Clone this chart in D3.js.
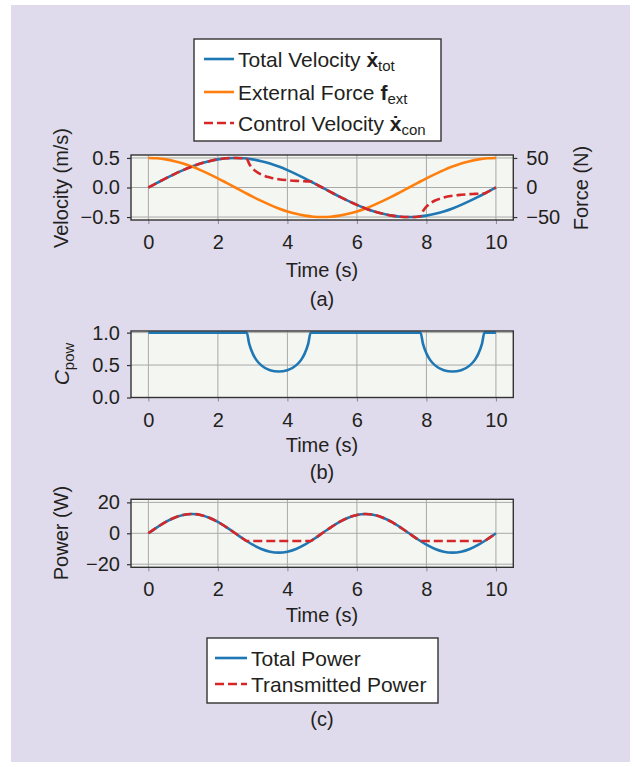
<!DOCTYPE html>
<html><head><meta charset="utf-8">
<script src="https://cdn.jsdelivr.net/npm/d3@7"></script>
<style>
body{margin:0;background:#fff}
text{font-family:"Liberation Sans",Arial,Helvetica,sans-serif;fill:#231f20}
</style>
</head><body><svg id="c" width="635" height="767"></svg>
<script>
// ---------- data ----------
const timeGrid = [0,0.25,0.5,0.75,1,1.25,1.5,1.75,2,2.25,2.5,2.75,3,3.25,3.5,3.75,4,4.25,4.5,4.75,5,5.25,5.5,5.75,6,6.25,6.5,6.75,7,7.25,7.5,7.75,8,8.25,8.5,8.75,9,9.25,9.5,9.75,10];
const velTotal = [0,0.078,0.155,0.227,0.294,0.354,0.405,0.446,0.476,0.494,0.5,0.494,0.476,0.446,0.405,0.354,0.294,0.227,0.155,0.078,0,-0.078,-0.155,-0.227,-0.294,-0.354,-0.405,-0.446,-0.476,-0.494,-0.5,-0.494,-0.476,-0.446,-0.405,-0.354,-0.294,-0.227,-0.155,-0.078,0];
const forceExt = [50,49.4,47.6,44.6,40.5,35.4,29.4,22.7,15.5,7.8,0,-7.8,-15.5,-22.7,-29.4,-35.4,-40.5,-44.6,-47.6,-49.4,-50,-49.4,-47.6,-44.6,-40.5,-35.4,-29.4,-22.7,-15.5,-7.8,0,7.8,15.5,22.7,29.4,35.4,40.5,44.6,47.6,49.4,50];
const powTotal = [0,3.86,7.35,10.11,11.89,12.5,11.89,10.11,7.35,3.86,0,-3.86,-7.35,-10.11,-11.89,-12.5,-11.89,-10.11,-7.35,-3.86,0,3.86,7.35,10.11,11.89,12.5,11.89,10.11,7.35,3.86,0,-3.86,-7.35,-10.11,-11.89,-12.5,-11.89,-10.11,-7.35,-3.86,0];

const timeFine = [0,0.25,0.5,0.75,1,1.25,1.5,1.75,2,2.25,2.5,2.75,2.83,2.9,3,3.1,3.25,3.5,3.75,4,4.25,4.4,4.5,4.6,4.67,4.75,5,5.25,5.5,5.75,6,6.25,6.5,6.75,7,7.25,7.5,7.75,7.83,7.9,8,8.1,8.25,8.5,8.75,9,9.25,9.4,9.5,9.6,9.67,9.75,10];
const velControl = [0,0.078,0.155,0.227,0.294,0.354,0.405,0.446,0.476,0.494,0.5,0.494,0.488,0.402,0.324,0.272,0.220,0.170,0.141,0.124,0.112,0.108,0.105,0.103,0.102,0.078,0,-0.078,-0.155,-0.227,-0.294,-0.354,-0.405,-0.446,-0.476,-0.494,-0.5,-0.494,-0.488,-0.402,-0.324,-0.272,-0.220,-0.170,-0.141,-0.124,-0.112,-0.108,-0.105,-0.103,-0.102,-0.078,0];
const powTransmitted = [0,3.86,7.35,10.11,11.89,12.5,11.89,10.11,7.35,3.86,0,-3.86,-5,-5,-5,-5,-5,-5,-5,-5,-5,-5,-5,-5,-5,-3.86,0,3.86,7.35,10.11,11.89,12.5,11.89,10.11,7.35,3.86,0,-3.86,-5,-5,-5,-5,-5,-5,-5,-5,-5,-5,-5,-5,-5,-3.86,0];
const cPow = [1,1,1,1,1,1,1,1,1,1,1,1,1,0.83,0.68,0.584,0.495,0.421,0.40,0.421,0.495,0.584,0.68,0.83,1,1,1,1,1,1,1,1,1,1,1,1,1,1,1,0.83,0.68,0.584,0.495,0.421,0.40,0.421,0.495,0.584,0.68,0.83,1,1,1];

const xTicks = [0,2,4,6,8,10];
const velTicks = [-0.5,0,0.5];
const velTickLabels = ["\u22120.5","0.0","0.5"];
const forceTicks = [-50,0,50];
const forceTickLabels = ["\u221250","0","50"];
const cTicks = [0,0.5,1.0];
const cTickLabels = ["0.0","0.5","1.0"];
const powTicks = [-20,0,20];
const powTickLabels = ["\u221220","0","20"];

// ---------- drawing ----------
const BLUE="#1f77b4", ORANGE="#ff7f0e", RED="#d62728", TXT="#231f20";
const TICKFS = 20, LABELFS = 20, LEGFS = 21, SUBFS = 15;
const svg = d3.select("#c");
svg.append("rect").attr("x",11).attr("y",5).attr("width",619).attr("height",757).attr("fill","#dfdbec");

const L=131, R=513.3;
const x = d3.scaleLinear().domain([-0.5,10.5]).range([L,R]);

function makePanel(top,bottom,yDomain,ticks,labels){
  const y = d3.scaleLinear().domain(yDomain).range([bottom,top]);
  const g = svg.append("g");
  g.append("rect").attr("x",L).attr("y",top).attr("width",R-L).attr("height",bottom-top).attr("fill","#f4f6f1");
  g.selectAll(null).data(xTicks).join("line")
    .attr("x1",d=>x(d)).attr("x2",d=>x(d)).attr("y1",top).attr("y2",bottom)
    .attr("stroke","#a9a9a9").attr("stroke-width",1);
  g.selectAll(null).data(ticks).join("line")
    .attr("x1",L).attr("x2",R).attr("y1",d=>y(d)).attr("y2",d=>y(d))
    .attr("stroke","#a9a9a9").attr("stroke-width",1);
  const ax = g.append("g").attr("transform",`translate(0,${bottom})`)
    .call(d3.axisBottom(x).tickValues(xTicks).tickFormat(d=>String(d)).tickSize(4).tickPadding(11));
  ax.select(".domain").remove();
  ax.attr("font-family",null);
  ax.selectAll("line").attr("stroke","#8a8a8a").attr("stroke-width",1);
  ax.selectAll("text").attr("font-size",TICKFS).style("fill",TXT);
  const ay = g.append("g").attr("transform",`translate(${L},0)`)
    .call(d3.axisLeft(y).tickValues(ticks).tickFormat((d,i)=>labels[i]).tickSize(4).tickPadding(7));
  ay.select(".domain").remove();
  ay.attr("font-family",null);
  ay.selectAll("line").attr("stroke","#333").attr("stroke-width",1.2);
  ay.selectAll("text").attr("font-size",TICKFS).style("fill",TXT);
  const lines = g.append("g");
  const spine = () => g.append("rect").attr("x",L).attr("y",top).attr("width",R-L).attr("height",bottom-top)
    .attr("fill","none").attr("stroke","#333").attr("stroke-width",1.4);
  return {g,y,lines,spine,top,bottom};
}

function drawLine(p, yScale, xs, ys, color, dashed){
  const pts = xs.map((t,i)=>[t,ys[i]]);
  const ln = d3.line().x(d=>x(d[0])).y(d=>yScale(d[1])).curve(d3.curveMonotoneX);
  p.lines.append("path").attr("d",ln(pts)).attr("fill","none").attr("stroke",color)
    .attr("stroke-width",2.6).attr("stroke-dasharray",dashed?"9,4":null);
}

function addText(txt,xp,yp,opts={}){
  const t = svg.append("text").attr("x",xp).attr("y",yp).attr("font-size",opts.size||LABELFS)
    .attr("text-anchor",opts.anchor||"middle").text(txt);
  if(opts.rotate) t.attr("transform",`rotate(${opts.rotate},${xp},${yp})`);
  return t;
}

// Panel (a)
const pa = makePanel(155,220,[-0.55,0.55],velTicks,velTickLabels);
const yForce = d3.scaleLinear().domain([-55,55]).range([220,155]);
const ayR = pa.g.append("g").attr("transform",`translate(${R},0)`)
  .call(d3.axisRight(yForce).tickValues(forceTicks).tickFormat((d,i)=>forceTickLabels[i]).tickSize(4).tickPadding(9));
ayR.select(".domain").remove();
ayR.attr("font-family",null);
ayR.selectAll("line").attr("stroke","#333").attr("stroke-width",1.2);
ayR.selectAll("text").attr("font-size",TICKFS).style("fill",TXT);
drawLine(pa, pa.y, timeGrid, velTotal, BLUE, false);
drawLine(pa, yForce, timeGrid, forceExt, ORANGE, false);
drawLine(pa, pa.y, timeFine, velControl, RED, true);
pa.spine();
addText("Time (s)", 322, 277);
addText("(a)", 322, 306);
addText("Velocity (m/s)", 68, 188, {rotate:-90});
addText("Force (N)", 588, 188, {rotate:-90});

// Panel (b)
const pb = makePanel(331,397.5,[0,1.025],cTicks,cTickLabels);
drawLine(pb, pb.y, timeFine, cPow, BLUE, false);
pb.spine();
addText("Time (s)", 322, 452);
addText("(b)", 322, 479);
const cl = svg.append("text").attr("transform","translate(69,364) rotate(-90)").attr("text-anchor","middle").attr("font-size",LABELFS+1);
cl.append("tspan").attr("font-style","italic").text("C");
cl.append("tspan").attr("font-size",SUBFS).attr("dy",5).text("pow");

// Panel (c)
const pc = makePanel(499.3,567.3,[-22,22],powTicks,powTickLabels);
drawLine(pc, pc.y, timeGrid, powTotal, BLUE, false);
drawLine(pc, pc.y, timeFine, powTransmitted, RED, true);
pc.spine();
addText("Time (s)", 322, 622);
addText("Power (W)", 68, 533, {rotate:-90});
addText("(c)", 322, 726);

// Legend 1
const leg1 = svg.append("g");
leg1.append("rect").attr("x",194).attr("y",39).attr("width",247).attr("height",102).attr("fill","#fff").attr("stroke","#333").attr("stroke-width",1.4);
const legItems1 = [
  {color:BLUE,dash:false,pre:"Total Velocity ",sym:"\u1E8B",sub:"tot",y:59},
  {color:ORANGE,dash:false,pre:"External Force ",sym:"f",sub:"ext",y:92},
  {color:RED,dash:true,pre:"Control Velocity ",sym:"\u1E8B",sub:"con",y:123}
];
legItems1.forEach(it=>{
  leg1.append("line").attr("x1",204).attr("x2",234).attr("y1",it.y).attr("y2",it.y)
    .attr("stroke",it.color).attr("stroke-width",2.6).attr("stroke-dasharray",it.dash?"9,4":null);
  const t = leg1.append("text").attr("x",238).attr("y",it.y+7.5).attr("font-size",LEGFS);
  t.append("tspan").text(it.pre);
  t.append("tspan").attr("font-weight","bold").text(it.sym);
  t.append("tspan").attr("font-size",SUBFS).attr("dy",4).text(it.sub);
});

// Legend 2
const leg2 = svg.append("g");
leg2.append("rect").attr("x",207).attr("y",638).attr("width",231).attr("height",65).attr("fill","#fff").attr("stroke","#333").attr("stroke-width",1.4);
const legItems2 = [
  {color:BLUE,dash:false,label:"Total Power",y:658},
  {color:RED,dash:true,label:"Transmitted Power",y:684}
];
legItems2.forEach(it=>{
  leg2.append("line").attr("x1",215).attr("x2",247).attr("y1",it.y).attr("y2",it.y)
    .attr("stroke",it.color).attr("stroke-width",2.6).attr("stroke-dasharray",it.dash?"9,4":null);
  leg2.append("text").attr("x",251).attr("y",it.y+7.5).attr("font-size",LEGFS).text(it.label);
});
</script>
</body></html>
